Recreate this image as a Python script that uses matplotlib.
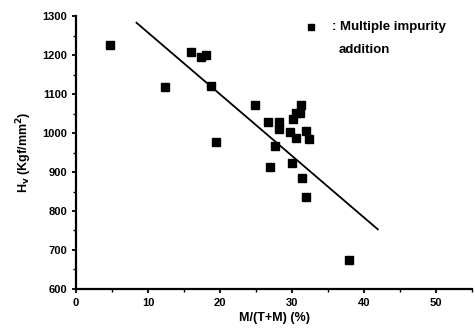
import matplotlib
matplotlib.use("Agg")
import matplotlib.pyplot as plt
from matplotlib.ticker import MultipleLocator

plt.rcParams['font.family'] = ['Liberation Sans', 'DejaVu Sans']
plt.rcParams['font.weight'] = 'bold'

x_vals = [4.7, 12.3, 16.0, 17.4, 18.0, 18.7, 19.4, 24.8, 31.3, 31.1, 30.5,
          26.6, 28.2, 28.2, 30.1, 29.7, 30.5, 32.0, 32.4, 27.6, 27.0, 30.0,
          31.4, 31.9, 37.9]
y_vals = [1227, 1119, 1207, 1196, 1200, 1120, 978, 1072, 1073, 1052, 1052,
          1028, 1029, 1010, 1035, 1002, 988, 1006, 986, 967, 912, 924,
          884, 835, 674]
fit_x = [8.4, 41.9]
fit_y = [1283, 753]

fig = plt.figure(figsize=(4.75, 3.36), dpi=100)
ax = fig.add_axes([0.16, 0.14, 0.834, 0.812])

ax.plot(x_vals, y_vals, 's', color='black', ms=5.6)
ax.plot(fit_x, fit_y, '-', color='black', lw=1.3)

ax.set_xlim(0, 55)
ax.set_ylim(600, 1300)
ax.xaxis.set_major_locator(MultipleLocator(10))
ax.xaxis.set_minor_locator(MultipleLocator(5))
ax.yaxis.set_major_locator(MultipleLocator(100))
ax.yaxis.set_minor_locator(MultipleLocator(50))
for s in ['top', 'right']:
    ax.spines[s].set_visible(False)
for s in ['left', 'bottom']:
    ax.spines[s].set_linewidth(1.6)
ax.tick_params(which='major', direction='out', length=3, width=1.3, labelsize=8)
ax.tick_params(which='minor', direction='out', length=2, width=1.0)
for lab in ax.get_xticklabels() + ax.get_yticklabels():
    lab.set_fontweight('bold')

ax.set_xlabel('M/(T+M) (%)', fontsize=9, fontweight='bold', labelpad=3)
ax.set_ylabel(r'H$_\mathbf{v}$ (Kgf/mm$^\mathbf{2}$)', fontsize=9, fontweight='bold', labelpad=6)

# legend annotation
ax.plot([32.6], [1273], 's', color='black', ms=4.5, clip_on=False)
ax.text(35.6, 1271, ': Multiple impurity', fontsize=9.5, fontweight='bold', va='center')
ax.text(36.4, 1214, 'addition', fontsize=9.5, fontweight='bold', va='center')

fig.savefig('out.png', dpi=100)
